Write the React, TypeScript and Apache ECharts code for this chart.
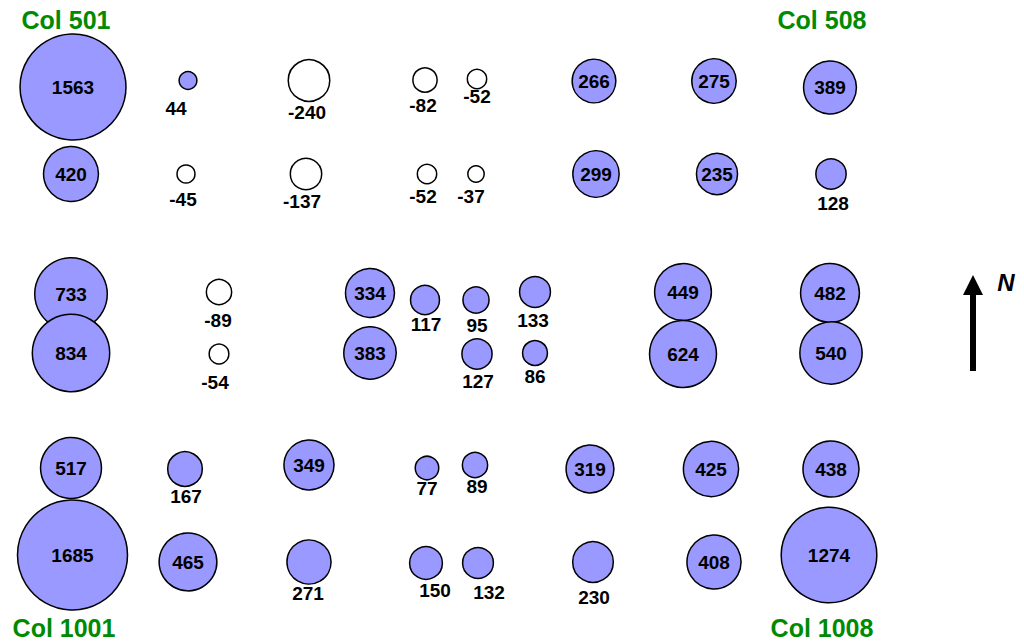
import React, { useEffect, useRef } from "react";
import * as echarts from "echarts";

// Plot values (net change per plot)
const values = [
  1563, 44, -240, -82, -52, 266, 275, 389,
  420, -45, -137, -52, -37, 299, 235, 128,
  733, -89, 334, 117, 95, 133, 449, 482,
  834, -54, 383, 127, 86, 624, 540,
  517, 167, 349, 77, 89, 319, 425, 438,
  1685, 465, 271, 150, 132, 230, 408, 1274,
];
// Plot easting (field units)
const eastings = [
  73, 188, 309, 425, 477, 594, 714, 830,
  71, 186, 306, 427, 476, 596, 717, 831,
  71, 219, 370, 425, 476, 535, 683, 830,
  71, 219, 370, 477, 535, 683, 831,
  71, 185, 309, 427, 475, 590, 711, 831,
  72.5, 188, 309, 426, 478, 593, 714, 829,
];
// Plot southing (field units, increasing downward)
const southings = [
  87, 80.5, 80.5, 80, 79, 81, 81, 87.5,
  174, 174, 174, 174, 174, 174, 174, 174,
  294, 292, 293, 300, 300, 292, 292, 293,
  353, 354, 353, 354, 353, 354, 353,
  468, 469, 465, 468, 465, 469, 469, 469,
  555, 562, 562, 563, 563, 562, 562, 555,
];
const cornerLabels = ["Col 501", "Col 508", "Col 1001", "Col 1008"];

// Layout: label placement (null = inside bubble, otherwise below with nudge)
const labelNudge: (number[] | null)[] = [
  null, [-12, 7], [-2, -1], [-2, 1], [0, -4], null, null, null,
  null, [-3, 4], [-4, 0], [-4, 1], [-5, 2], null, null, [2, 2],
  null, [-1, 4], null, [1, -2], [1, 0], [-2, 1], null, null,
  null, [-4, 6], null, [1, 0], [0, -1], null, null,
  null, [1, -2], null, [0, -4], [2, -3], null, null, null,
  null, null, [-1, -3], [9, -1], [11, 2], [1, 3], null, null,
];
const cornerPos = [
  [66, 20],
  [822, 20],
  [64, 628],
  [822, 628],
];

const FONT = '"Liberation Sans", Arial, sans-serif';

export default function App() {
  const ref = useRef<HTMLDivElement>(null);
  useEffect(() => {
    if (!ref.current) return;
    const chart = echarts.init(ref.current, null, { renderer: "svg" });
    const data = values.map((v, i) => {
      const nudge = labelNudge[i];
      return {
        value: [eastings[i], southings[i], v],
        itemStyle: {
          color: v > 0 ? "#9999FF" : "#FFFFFF",
          borderColor: "#000000",
          borderWidth: 1.5,
          opacity: 1,
        },
        label: nudge
          ? { position: "bottom", distance: 2, offset: nudge }
          : { position: "inside" },
      };
    });
    chart.setOption({
      animation: false,
      backgroundColor: "#ffffff",
      grid: { left: 0, right: 0, top: 0, bottom: 0 },
      xAxis: { type: "value", min: 0, max: 1024, show: false },
      yAxis: { type: "value", min: 0, max: 644, inverse: true, show: false },
      series: [
        {
          type: "scatter",
          data,
          symbol: "circle",
          symbolSize: (val: number[]) => 2.68 * Math.sqrt(Math.abs(val[2])),
          label: {
            show: true,
            formatter: (p: any) => String(p.value[2]),
            color: "#000000",
            fontWeight: "bold",
            fontSize: 19,
            fontFamily: FONT,
          },
          emphasis: { disabled: true },
        },
      ],
      graphic: [
        ...cornerLabels.map((t, i) => ({
          type: "text",
          x: cornerPos[i][0],
          y: cornerPos[i][1],
          style: {
            text: t,
            fill: "#008A00",
            font: `bold 25px ${FONT}`,
            textAlign: "center",
            textVerticalAlign: "middle",
          },
        })),
        {
          type: "line",
          shape: { x1: 973, y1: 371, x2: 973, y2: 290 },
          style: { stroke: "#000000", lineWidth: 6 },
        },
        {
          type: "polygon",
          shape: { points: [[963, 295], [983, 295], [973, 275]] },
          style: { fill: "#000000" },
        },
        {
          type: "text",
          x: 1006,
          y: 282,
          style: {
            text: "N",
            fill: "#000000",
            font: `italic bold 24px ${FONT}`,
            textAlign: "center",
            textVerticalAlign: "middle",
          },
        },
      ],
    });
    return () => chart.dispose();
  }, []);
  return (
    <div
      ref={ref}
      style={{ position: "fixed", left: 0, top: 0, width: 1024, height: 644 }}
    />
  );
}
